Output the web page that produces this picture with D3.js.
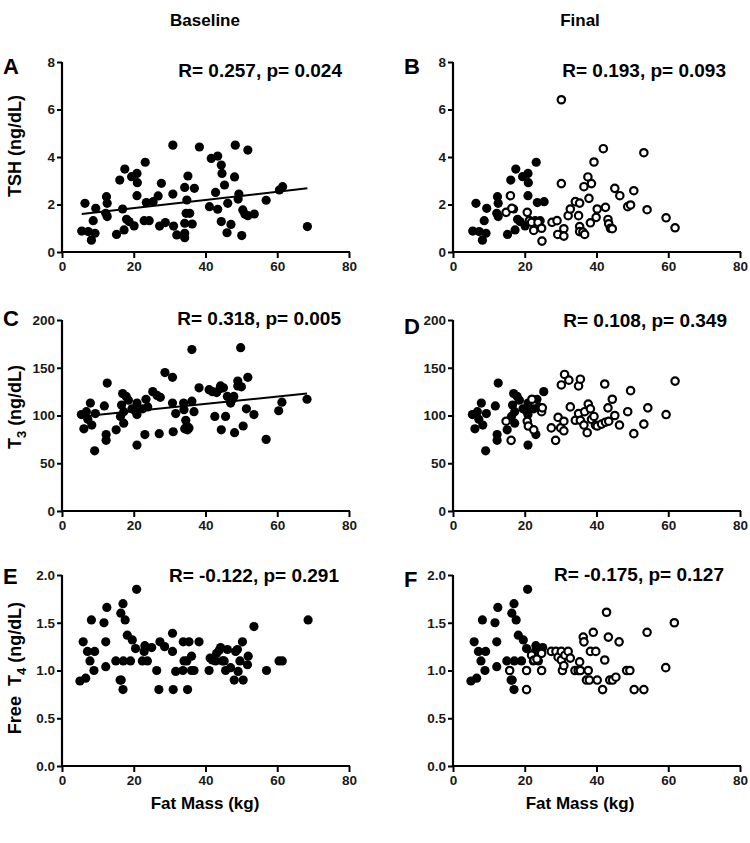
<!DOCTYPE html>
<html><head><meta charset="utf-8">
<script src="https://cdn.jsdelivr.net/npm/d3@7"></script>
<style>
html,body{margin:0;padding:0;background:#fff;}
svg{display:block;font-family:"Liberation Sans",Arial,sans-serif;}
</style></head>
<body>
<svg id="chart" width="750" height="843"></svg>
<script>
// ---------------- DATA ----------------
const columnTitles = ["Baseline", "Final"];
const xTitle = "Fat Mass (kg)";
const xTicks = [0, 20, 40, 60, 80];
const tshTicks = [0, 2, 4, 6, 8];
const t3Ticks = [0, 50, 100, 150, 200];
const ft4Ticks = [0.0, 0.5, 1.0, 1.5, 2.0];
const statsText = {
  A: "R= 0.257, p= 0.024", B: "R= 0.193, p= 0.093",
  C: "R= 0.318, p= 0.005", D: "R= 0.108, p= 0.349",
  E: "R= -0.122, p= 0.291", F: "R= -0.175, p= 0.127"
};
// baseline points kept as filled circles in "Final" panels (fat mass below this)
const finalBaselineCut = 26;

// TSH baseline [fat mass, TSH]
const tshBaseline = [
 [5.5,0.88],[6.4,2.05],[7.3,0.86],[8.2,0.5],[8.7,1.32],[9.2,0.79],[9.4,1.84],
 [12.4,2.33],[12.6,2.05],[12.2,1.63],[12.6,1.49],[15.2,0.74],[16.1,3.03],[16.9,1.81],
 [17.3,0.93],[17.5,3.49],[18.0,1.38],[18.7,1.28],[19.4,3.17],[20.1,1.1],[20.9,3.31],
 [21.0,2.92],[20.9,2.37],[23.2,3.78],[23.5,2.08],[22.9,1.32],[24.3,1.32],[25.4,2.12],
 [26.8,2.36],[27.2,1.09],[27.7,2.89],[28.8,1.24],[30.9,4.5],[30.9,2.44],[31.1,1.09],
 [32.0,0.72],[34.2,2.72],[34.2,1.21],[34.2,0.79],[34.2,0.6],[34.6,1.63],[34.8,2.19],
 [35.1,3.2],[35.6,1.63],[36.3,1.18],[36.9,2.68],[38.3,4.42],[41.1,1.91],[41.6,3.94],
 [42.8,2.51],[43.4,4.04],[43.4,1.8],[44.4,3.66],[44.6,3.31],[44.4,1.28],[45.3,2.82],
 [46.0,0.81],[46.2,2.05],[47.1,1.16],[48.3,4.5],[48.1,3.16],[49.3,2.44],[49.1,2.23],
 [50.1,0.69],[50.4,1.77],[51.0,1.59],[51.8,4.29],[51.8,1.53],[53.6,1.6],[56.9,2.18],
 [60.6,2.61],[61.5,2.75],[68.4,1.07]
];
const tshFinal = [
 [16.0,2.37],[14.8,1.67],[16.4,1.84],[20.7,1.67],[21.3,1.32],[21.9,1.25],[22.5,0.91],
 [23.7,1.25],[24.7,1.0],[24.8,0.46],[27.6,1.25],[29.0,1.32],[29.2,0.74],[30.2,6.41],
 [30.2,2.88],[30.9,0.98],[30.9,0.67],[32.1,1.53],[32.7,1.81],[34.1,2.12],[35.0,1.53],
 [35.3,2.06],[35.3,1.07],[35.3,0.86],[36.2,0.84],[36.7,0.74],[36.5,2.75],[37.6,3.16],
 [37.9,2.26],[38.3,1.23],[38.6,2.88],[39.3,3.79],[39.9,1.46],[40.2,1.81],[41.9,4.35],
 [42.5,1.88],[43.2,1.37],[43.4,1.19],[43.9,1.0],[44.4,0.98],[45.1,2.68],[46.5,2.37],
 [48.7,1.91],[49.5,1.98],[50.4,2.58],[53.2,4.18],[54.1,1.78],[59.4,1.44],[61.9,1.02]
];
const tshFit = [[5.5,1.6],[68.4,2.68]];

// T3 baseline
const t3Baseline = [
 [5.4,101],[6.1,86],[6.8,104],[7.2,96],[7.9,113],[8.3,90],[9.1,63],[9.3,102],
 [11.8,110],[12.6,134],[12.3,80],[12.3,74],[15.1,85],[16.3,99],[16.6,111],[16.9,123],
 [17.2,92],[17.2,104],[17.9,120],[18.5,116],[19.5,107],[20.4,105],[20.9,113],[20.9,101],
 [20.9,69],[22.5,107],[23.1,80],[23.4,117],[23.9,109],[25.3,125],[26.5,121],[27.4,119],
 [27.1,81],[28.7,145],[30.8,140],[30.8,113],[31.0,83],[31.7,102],[33.9,113],[34.0,106],
 [34.2,86],[34.5,95],[34.8,89],[35.0,85],[35.4,87],[36.2,169],[36.2,115],[36.8,104],
 [38.2,129],[41.0,127],[41.9,125],[42.6,99],[43.1,124],[44.0,128],[44.2,131],[44.4,85],
 [45.0,129],[45.6,99],[46.1,120],[47.0,113],[47.5,117],[47.9,120],[48.1,82],[49.0,136],
 [49.0,131],[49.8,171],[50.0,130],[50.5,89],[51.4,107],[51.8,140],[53.5,101],[56.9,75],
 [60.4,105],[61.3,114],[68.3,117]
];
const t3Final = [
 [14.8,94],[16.2,74],[20.7,94],[21.0,89],[22.5,85],[22.0,117],[24.7,104],[24.9,108],
 [27.4,87],[28.6,74],[29.3,98],[30.0,87],[30.2,132],[30.9,94],[30.9,84],[31.1,143],
 [32.3,137],[32.7,109],[34.1,95],[35.0,102],[35.0,131],[35.5,138],[35.5,95],[36.5,90],
 [36.7,104],[37.4,82],[37.7,112],[38.3,107],[38.6,96],[39.3,99],[39.7,90],[40.2,89],
 [41.4,91],[42.3,133],[42.5,93],[43.2,108],[43.4,94],[44.4,117],[45.1,100],[46.4,90],
 [48.7,104],[49.5,126],[50.4,81],[53.2,91],[54.3,108],[59.4,101],[61.9,136]
];
const t3Fit = [[5.4,99],[68.3,123]];

// Free T4 baseline
const ft4Baseline = [
 [5.0,0.89],[5.9,1.30],[6.6,0.92],[7.1,1.20],[7.8,1.10],[8.2,1.53],[8.9,1.0],[9.1,1.2],
 [11.7,1.50],[12.2,1.30],[12.5,1.66],[12.2,1.04],[15.0,1.10],[16.2,0.90],[16.5,0.90],
 [16.4,1.60],[17.0,1.70],[17.0,0.80],[17.1,1.10],[17.6,1.53],[18.2,1.37],[19.1,1.10],
 [19.6,1.32],[20.5,1.23],[20.8,1.85],[22.4,1.10],[22.9,1.20],[23.1,1.26],[23.8,1.10],
 [25.0,1.24],[26.4,1.0],[27.0,0.80],[27.3,1.30],[28.6,1.25],[30.8,1.39],[30.8,1.20],
 [31.0,0.80],[31.7,0.99],[33.7,1.0],[33.8,1.30],[34.0,1.10],[34.8,1.10],[35.0,0.80],
 [35.4,1.30],[36.1,1.15],[36.1,1.0],[36.8,1.0],[38.2,1.30],[41.0,1.0],[41.3,1.13],
 [41.9,1.11],[42.8,1.10],[43.1,1.18],[43.8,1.21],[44.2,1.24],[44.7,1.10],[45.2,1.10],
 [45.6,1.0],[46.1,1.22],[47.0,1.03],[48.0,0.90],[48.4,1.20],[48.9,1.22],[49.1,0.99],
 [49.6,1.10],[50.3,1.30],[50.5,0.90],[51.7,1.06],[51.9,1.15],[53.5,1.46],[57.0,1.0],
 [60.5,1.10],[61.4,1.10],[68.6,1.53]
];
const ft4Final = [
 [15.8,1.0],[20.5,1.0],[20.5,0.80],[21.9,1.16],[22.6,1.11],[23.4,1.12],[24.7,1.18],
 [24.7,1.0],[27.4,1.20],[28.7,1.20],[29.3,1.14],[30.2,1.20],[30.2,1.11],[30.5,1.0],
 [30.9,1.05],[31.2,1.16],[32.1,1.20],[32.7,1.13],[34.0,1.0],[34.9,1.0],[35.3,1.09],
 [35.5,1.0],[36.3,1.35],[36.5,1.30],[37.7,1.0],[37.2,0.90],[38.0,0.90],[38.3,1.20],
 [39.1,1.40],[39.8,1.20],[40.2,0.90],[41.7,0.80],[42.3,1.11],[42.8,1.61],[43.3,1.35],
 [43.7,0.90],[44.5,0.90],[45.4,0.93],[46.3,1.30],[48.4,1.0],[49.3,1.0],[50.5,0.80],
 [53.2,0.80],[54.1,1.40],[59.3,1.03],[61.7,1.50]
];

// ---------------- LAYOUT ----------------
const svg = d3.select("#chart");
const colX = [[62, 349], [453, 740]];
const rowY = [[252, 62], [511, 320], [766, 575]];

const rows = [
  {ticks: tshTicks, fmt: d3.format("d"), base: tshBaseline, fin: tshFinal, fit: tshFit, letters: ["A","B"]},
  {ticks: t3Ticks, fmt: d3.format("d"), base: t3Baseline, fin: t3Final, fit: t3Fit, letters: ["C","D"]},
  {ticks: ft4Ticks, fmt: d3.format(".1f"), base: ft4Baseline, fin: ft4Final, fit: null, letters: ["E","F"]}
];

const statsPos = [[[342,77],[726,77]],[[341,325],[727,327]],[[339,582],[724,581]]];
const letterPos = [[[3,74],[404,74]],[[3,326],[404,334]],[[3,584],[404,587]]];

rows.forEach((row, ri) => {
  [0, 1].forEach(ci => {
    const x = d3.scaleLinear().domain([0, 80]).range(colX[ci]);
    const y = d3.scaleLinear().domain([row.ticks[0], row.ticks[row.ticks.length-1]]).range(rowY[ri]);
    const g = svg.append("g");

    // axes
    const xa = g.append("g").attr("transform", `translate(0,${rowY[ri][0]})`)
      .call(d3.axisBottom(x).tickValues(xTicks).tickSize(6).tickPadding(3).tickSizeOuter(0));
    const ya = g.append("g").attr("transform", `translate(${colX[ci][0]},0)`)
      .call(d3.axisLeft(y).tickValues(row.ticks).tickFormat(row.fmt).tickSize(5).tickPadding(2).tickSizeOuter(0));
    [xa, ya].forEach(a => {
      a.select(".domain").attr("stroke", "#000").attr("stroke-width", 2.2);
      a.selectAll(".tick line").attr("stroke", "#000").attr("stroke-width", 2);
      a.selectAll(".tick text").attr("fill", "#1a1a1a").attr("font-size", 13.5)
        .attr("font-weight", "bold").attr("font-family", "Liberation Sans, Arial, sans-serif");
    });
    ya.select(".domain").attr("d", `M0,${rowY[ri][1]}V${rowY[ri][0]+1}`);
    xa.select(".domain").attr("d", `M-1,0H${colX[ci][1]-colX[ci][0]+1}`).attr("transform", `translate(${colX[ci][0]},0)`);

    // regression line (baseline panels only)
    if (ci === 0 && row.fit) {
      g.append("path").datum(row.fit)
        .attr("d", d3.line().x(d => x(d[0])).y(d => y(d[1])))
        .attr("stroke", "#000").attr("stroke-width", 2).attr("fill", "none");
    }

    // filled points
    const filled = ci === 0 ? row.base : row.base.filter(d => d[0] < finalBaselineCut);
    g.selectAll("circle.f").data(filled).join("circle").attr("class", "f")
      .attr("cx", d => x(d[0])).attr("cy", d => y(d[1])).attr("r", 4.6).attr("fill", "#000");

    // open points
    if (ci === 1) {
      g.selectAll("circle.o").data(row.fin).join("circle").attr("class", "o")
        .attr("cx", d => x(d[0])).attr("cy", d => y(d[1])).attr("r", 3.7)
        .attr("fill", "#fff").attr("stroke", "#000").attr("stroke-width", 2.2);
    }

    // stats text
    const L = row.letters[ci];
    g.append("text").attr("x", statsPos[ri][ci][0]).attr("y", statsPos[ri][ci][1])
      .attr("text-anchor", "end").attr("font-size", 19).attr("font-weight", "bold")
      .attr("fill", "#000").text(statsText[L]);
    // panel letter
    g.append("text").attr("x", letterPos[ri][ci][0]).attr("y", letterPos[ri][ci][1])
      .attr("font-size", 22).attr("font-weight", "bold").attr("fill", "#000").text(L);
  });
});

// column titles
columnTitles.forEach((t, i) => {
  svg.append("text").attr("x", i === 0 ? 205 : 580).attr("y", 26)
    .attr("text-anchor", "middle").attr("font-size", 17).attr("font-weight", "bold").text(t);
  svg.append("text").attr("x", i === 0 ? 205 : 580).attr("y", 809)
    .attr("text-anchor", "middle").attr("font-size", 17).attr("font-weight", "bold").text(xTitle);
});

// y-axis titles
function yTitle(cy, parts) {
  const t = svg.append("text").attr("transform", `translate(21,${cy}) rotate(-90)`)
    .attr("text-anchor", "middle").attr("font-size", 18).attr("font-weight", "bold");
  parts.forEach(p => {
    const s = t.append("tspan").text(p.t);
    if (p.sub) s.attr("font-size", 13).attr("dy", 5);
    if (p.up) s.attr("dy", -5);
    if (p.dx) s.attr("dx", p.dx);
  });
}
yTitle(146, [{t: "TSH (ng/dL)"}]);
yTitle(407, [{t: "T"}, {t: "3", sub: true}, {t: " (ng/dL)", up: true}]);
yTitle(668, [{t: "Free"}, {t: "T", dx: 10}, {t: "4", sub: true}, {t: " (ng/dL)", up: true}]);
</script>
</body></html>
